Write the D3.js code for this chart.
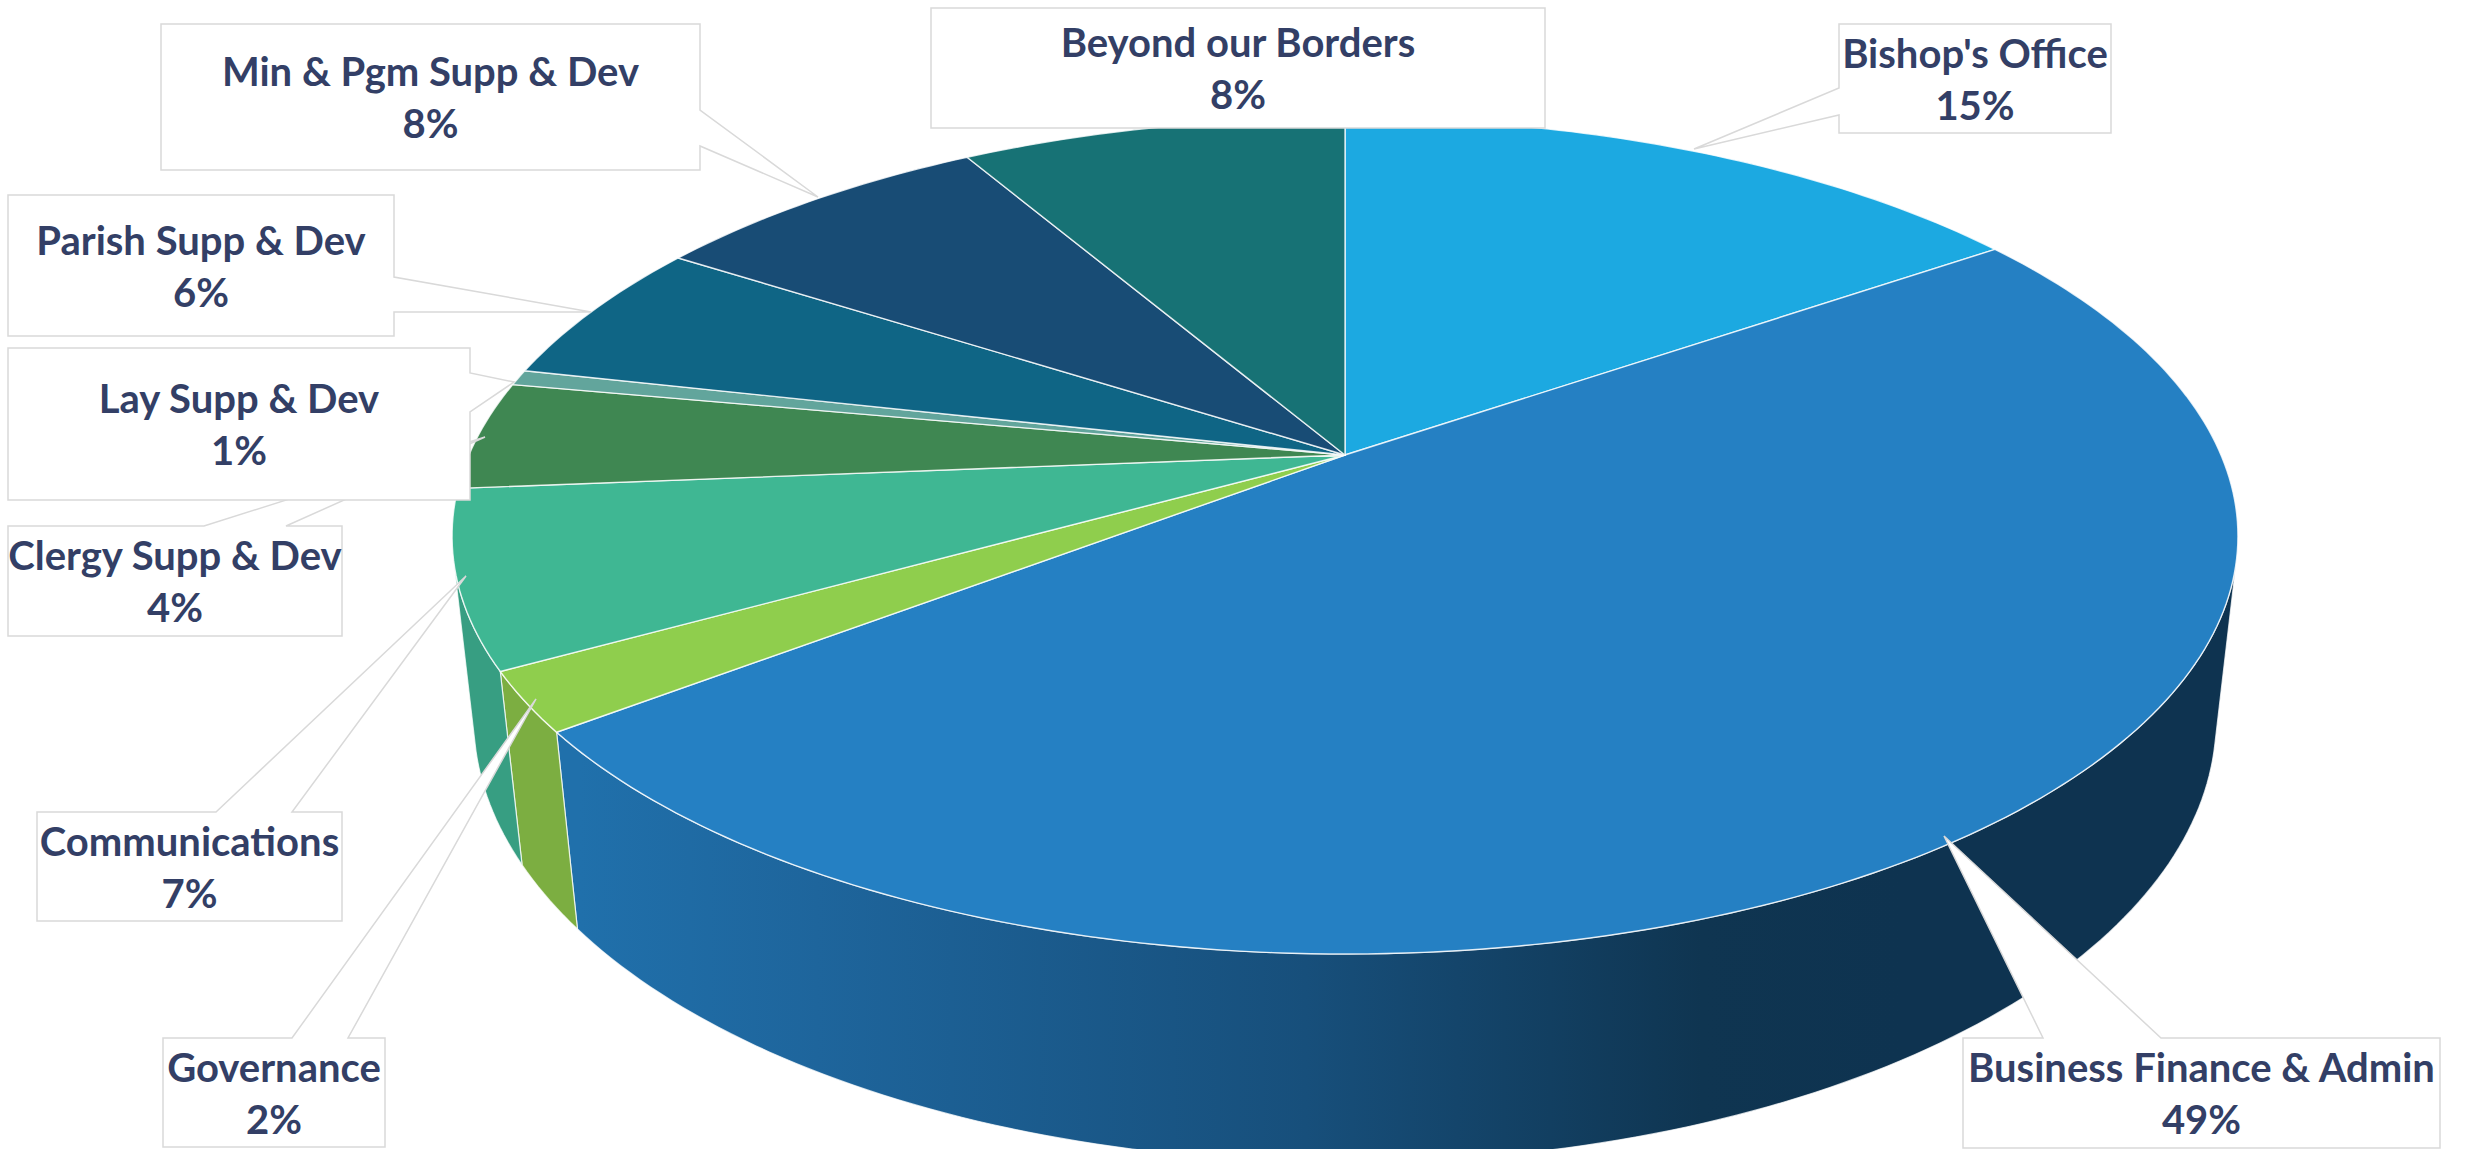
<!DOCTYPE html>
<html>
<head>
<meta charset="utf-8">
<title>Budget allocation by ministry area</title>
<script src="https://d3js.org/d3.v7.min.js"></script>
<style>
  html, body { margin: 0; padding: 0; background: #fff; overflow: hidden; }
  svg { display: block; }
  text { font-family: Lato, "Open Sans", sans-serif; font-weight: 700; fill: #333f66; text-anchor: middle; }
</style>
</head>
<body>
<svg id="chart" width="2476" height="1149" role="img" aria-label="Budget allocation by ministry area"></svg>
<script>
// Budget shares, clockwise from twelve o'clock (percent)
const categories = ["Bishop's Office", "Business Finance & Admin", "Governance", "Communications",
  "Clergy Supp & Dev", "Lay Supp & Dev", "Parish Supp & Dev", "Min & Pgm Supp & Dev", "Beyond our Borders"];
const shares = [15.4, 49.2, 2.3, 6.8, 4.2, 0.6, 5.6, 7.5, 8.4];

const topColors = ["#1ca9e1", "#2580c3", "#8fce4d", "#3fb793", "#3f8752", "#62a59c", "#0f6585", "#184c75", "#177275"];
const wallColors = ["#11678a", "url(#financeWall)", "#7cae41", "#379e82", "#2f6a40", "#4f8780", "#0b4c64", "#113957", "#105557"];

// Callout layout: box corners, the side carrying the pointer, pointer base and tip
const callouts = [
  { box: [1839, 24, 2111, 133], side: "left", base: [88, 115], tip: [1694, 149] },
  { box: [1963, 1038, 2440, 1148], side: "top", base: [2043, 2161], tip: [1944, 836] },
  { box: [163, 1038, 385, 1147], side: "top", base: [292, 348], tip: [536, 699] },
  { box: [37, 812, 342, 921], side: "top", base: [216, 292], tip: [466, 576] },
  { box: [8, 526, 342, 636], side: "top", base: [204, 286], tip: [485, 437] },
  { box: [8, 348, 470, 500], side: "right", base: [373, 412], tip: [514, 382] },
  { box: [8, 195, 394, 336], side: "right", base: [277, 312], tip: [591, 312] },
  { box: [161, 24, 700, 170], side: "right", base: [110, 146], tip: [818, 197] },
  { box: [931, 8, 1545, 128], side: null }
];

// Perspective projection of the disc: u to the right, v towards the viewer, depth downward
const view = { cx: 1345, cy: 455, rx: 876, ry: 402.3, persp: 0.1938, drop: 185, recede: 0.024 };
const project = (angle, depth) => {
  const u = Math.sin(angle), v = -Math.cos(angle);
  const w = 1 - view.persp * v + view.recede * depth;
  return [view.cx + view.rx * u / w, view.cy + (view.ry * v + view.drop * depth) / w];
};

// The wall only faces the viewer between these angles (its silhouette rulings)
const wallFrom = 104 * Math.PI / 180, wallTo = 256 * Math.PI / 180;

const svg = d3.select("#chart");

const defs = svg.append("defs");
const gradient = defs.append("linearGradient").attr("id", "financeWall")
  .attr("gradientUnits", "userSpaceOnUse").attr("x1", 580).attr("x2", 1900).attr("y1", 0).attr("y2", 0);
[[0, "#2070ab"], [0.18, "#1e659c"], [0.55, "#174f7b"], [0.85, "#0f3551"], [1, "#0e3350"]]
  .forEach(([offset, color]) => gradient.append("stop").attr("offset", offset).attr("stop-color", color));

const slices = d3.pie().sort(null).value(d => d)(shares)
  .map((s, i) => ({ ...s, index: i }));
const outline = d3.line();

// Walk an angular span in one-degree steps
const arcAngles = (start, end) => {
  const steps = Math.max(2, Math.ceil((end - start) / (Math.PI / 180)));
  return d3.range(steps + 1).map(i => start + (end - start) * i / steps);
};

// Outer walls of the slices that face the viewer; tops are painted over them
const walls = slices
  .map(s => ({ ...s, from: Math.max(s.startAngle, wallFrom), to: Math.min(s.endAngle, wallTo) }))
  .filter(s => s.to > s.from);
svg.append("g").selectAll("path").data(walls).join("path")
  .attr("d", s => {
    const angles = arcAngles(s.from, s.to);
    const upper = angles.map(a => project(a, 0));
    const lower = angles.slice().reverse().map(a => project(a, 1));
    return outline(upper.concat(lower)) + "Z";
  })
  .attr("fill", s => wallColors[s.index])
  .attr("stroke", "#fff").attr("stroke-opacity", 0.75).attr("stroke-width", 1.2);

// Top faces
svg.append("g").selectAll("path").data(slices).join("path")
  .attr("d", s => outline([[view.cx, view.cy]].concat(arcAngles(s.startAngle, s.endAngle).map(a => project(a, 0)))) + "Z")
  .attr("fill", s => topColors[s.index])
  .attr("stroke", "#fff").attr("stroke-opacity", 0.8).attr("stroke-width", 1.4)
  .attr("stroke-linejoin", "round");

// Callout outline with its pointer
const calloutPath = c => {
  const [x0, y0, x1, y1] = c.box;
  let pts;
  if (c.side === "top") {
    pts = [[x0, y0], [c.base[0], y0], c.tip, [c.base[1], y0], [x1, y0], [x1, y1], [x0, y1]];
  } else if (c.side === "right") {
    pts = [[x0, y0], [x1, y0], [x1, c.base[0]], c.tip, [x1, c.base[1]], [x1, y1], [x0, y1]];
  } else if (c.side === "left") {
    pts = [[x0, y0], [x1, y0], [x1, y1], [x0, y1], [x0, c.base[1]], c.tip, [x0, c.base[0]]];
  } else {
    pts = [[x0, y0], [x1, y0], [x1, y1], [x0, y1]];
  }
  return outline(pts) + "Z";
};

const labels = svg.append("g").selectAll("g").data(callouts).join("g");
labels.append("path")
  .attr("d", calloutPath)
  .attr("fill", "#fff").attr("stroke", "#d9d9d9").attr("stroke-width", 1.5);

const fontSize = 40;
labels.each(function (c, i) {
  const g = d3.select(this);
  const mx = (c.box[0] + c.box[2]) / 2, my = (c.box[1] + c.box[3]) / 2;
  g.append("text").attr("x", mx).attr("y", my - 11).attr("font-size", fontSize).text(categories[i]);
  g.append("text").attr("x", mx).attr("y", my + 41).attr("font-size", fontSize).text(`${Math.round(shares[i])}%`);
});
</script>
</body>
</html>
